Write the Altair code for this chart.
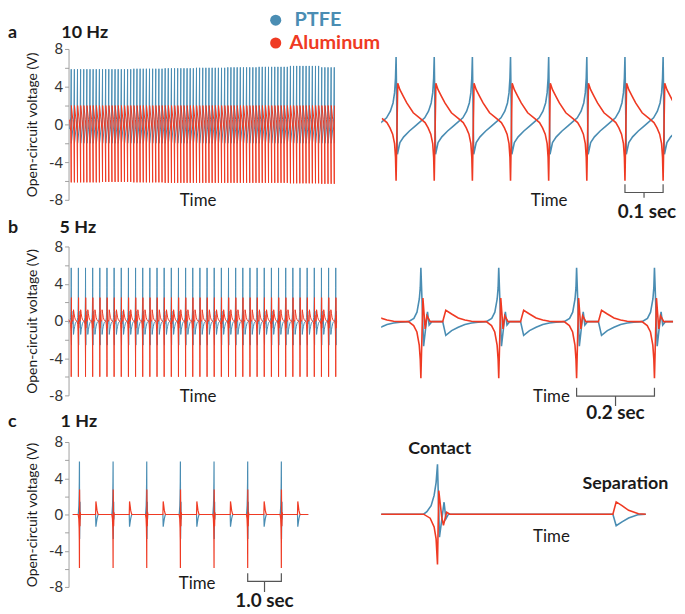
import altair as alt
import pandas as pd

BLUE = "#4a8db3"
RED = "#ef3a23"
AXC = "#a0a0a0"
TXT = "#1a1a1a"

series_names = ["PTFE", "Aluminum"]
series_colors = [BLUE, RED]

# ---------------- 10 Hz ----------------
P10 = 0.1
a_left_cycles = 85
a_left_phase = [0.0, 0.04, 0.5, 0.85]
a_left_ptfe = [5.9, -2.0, -0.5, 0.8]
a_left_al = [-6.2, 2.0, 0.5, -0.8]
a_left_ptfe_peak = [5.85, 5.85, 5.9, 5.95, 6.0, 6.05, 6.1, 6.2, 6.05]
a_left_al_trough = [-6.15, -6.1, -6.15, -6.2, -6.2, -6.2, -6.2, -6.25, -6.3]

a_right_ptfe_phase = [0.0, 0.035, 0.1, 0.2, 0.35, 0.5, 0.65, 0.75, 0.85, 0.92, 0.96, 0.985]
a_right_ptfe = [6.0, -3.2, -2.1, -1.55, -1.0, -0.53, -0.06, 0.25, 0.87, 1.65, 2.6, 4.0]
a_right_al_phase = [0.0, 0.043, 0.1, 0.19, 0.28, 0.45, 0.63, 0.76, 0.84, 0.91, 0.96, 0.985]
a_right_al = [-5.7, 3.5, 2.9, 2.27, 1.65, 0.72, 0.19, -0.2, -0.7, -1.3, -2.2, -3.5]

# ---------------- 5 Hz ----------------
P5 = 0.2
b_cycles = 38
b_ptfe_phase = [0.0, 0.035, 0.085, 0.106, 0.14, 0.28, 0.32, 0.395, 0.48, 0.565, 0.65, 0.735, 0.84, 0.91, 0.95, 0.98, 0.992]
b_ptfe = [5.7, -2.6, 1.05, -0.35, 0.0, 0.0, -1.45, -0.95, -0.6, -0.3, -0.14, -0.07, 0.0, 0.35, 1.0, 2.4, 3.6]
b_al_phase = [0.0, 0.026, 0.055, 0.077, 0.12, 0.28, 0.32, 0.395, 0.48, 0.565, 0.65, 0.735, 0.84, 0.907, 0.949, 0.979, 0.992]
b_al = [-6.0, 2.5, -0.77, 0.63, 0.0, 0.0, 1.2, 0.81, 0.39, 0.18, 0.04, 0.0, 0.0, -0.42, -1.1, -2.5, -4.0]

# ---------------- 1 Hz ----------------
P1 = 1.0
c_cycles = 7
c_ptfe_phase = [0.0, 0.0054, 0.018, 0.023, 0.03, 0.48, 0.489, 0.505, 0.523, 0.55, 0.57, 0.8, 0.962, 0.971, 0.9826, 0.9908, 0.9962]
c_ptfe = [5.85, -2.7, 1.4, -0.55, 0.0, 0.0, -1.35, -0.9, -0.45, -0.05, 0.0, 0.0, 0.0, 0.3, 1.0, 2.2, 3.7]
c_al_phase = [0.0, 0.0035, 0.0117, 0.0163, 0.025, 0.034, 0.48, 0.489, 0.505, 0.523, 0.55, 0.57, 0.8, 0.962, 0.98, 0.9908, 0.9962]
c_al = [-5.9, 2.75, -0.35, -1.3, 0.23, 0.0, 0.0, 1.44, 1.0, 0.45, 0.05, 0.0, 0.0, 0.0, -0.47, -1.5, -2.9]

# period brackets: (start cycle, end cycle, tick top, line level, stem bottom, label level)
bracket_c_left = [5, 6, -6.5, -7.38, -8.56, -9.6]
bracket_a_right = [6, 7, -6.03, -6.81, -7.31, -8.69]
bracket_b_right = [2, 3, -7.01, -7.89, -8.95, -9.72]
bracket_labels = ["1.0 sec", "0.1 sec", "0.2 sec"]

contact_label = ["Contact", 0.006, 7.64]
separation_label = ["Separation", 0.514, 3.57]

panel_letters = ["a", "b", "c"]
panel_freqs = ["10 Hz", "5 Hz", "1 Hz"]


def cycles(phases, values, period, k0, k1, t0, t1, first=None):
    ts, vs = [], []
    for k in range(k0, k1):
        for j, (p, v) in enumerate(zip(phases, values)):
            if j == 0 and first is not None and k >= 0:
                v = first[min(k // 10, len(first) - 1)]
            t = (k + p) * period
            if t0 <= t <= t1:
                ts.append(round(t, 6))
                vs.append(v)
    return pd.DataFrame({"t": ts, "v": vs})


def bracket_df(b, period):
    s, e, top, lvl, bot, _ = b
    t0, t1, tm = s * period, e * period, (s + e) / 2 * period
    rows = [
        (t0, top, 0, 0), (t0, lvl, 0, 1), (t1, lvl, 0, 2), (t1, top, 0, 3),
        (tm, lvl, 1, 0), (tm, bot, 1, 1),
    ]
    return pd.DataFrame(rows, columns=["t", "v", "seg", "ord"])


def encs(xdom, ydom, h, left_axis, time_x, time_y):
    x = alt.X("t:Q", scale=alt.Scale(domain=xdom, nice=False, zero=False),
              axis=alt.Axis(title="Time", domain=False, ticks=False, labels=False, grid=False,
                            titleX=time_x, titleY=time_y, titleAlign="center",
                            titleBaseline="middle", titleFontSize=17,
                            titleFontWeight="normal", titleColor=TXT, titlePadding=0))
    if left_axis:
        yaxis = alt.Axis(values=[-8, -6, -4, -2, 0, 2, 4, 6, 8],
                         labelExpr="datum.value % 4 == 0 ? '' + datum.value : ''",
                         domainColor=AXC, tickColor=AXC, tickSize=4, labelPadding=2,
                         labelFontSize=15, labelColor="#333333", grid=False,
                         title="Open-circuit voltage (V)", titleFontSize=14,
                         titleFontWeight="normal", titleColor=TXT, titleAngle=270,
                         titleX=-36, titleY=h / 2, titleAlign="center", titleBaseline="middle")
        y = alt.Y("v:Q", scale=alt.Scale(domain=ydom, nice=False, zero=False), axis=yaxis)
    else:
        y = alt.Y("v:Q", scale=alt.Scale(domain=ydom, nice=False, zero=False), axis=None)
    return x, y


def lines(ptfe_df, al_df, x, y, sw):
    blue = alt.Chart(ptfe_df).mark_line(color=BLUE, strokeWidth=sw, clip=True).encode(x=x, y=y)
    red = alt.Chart(al_df).mark_line(color=RED, strokeWidth=sw, clip=True).encode(x=x, y=y)
    return [blue, red]


def labels(i, ly, fx):
    d = pd.DataFrame({"letter": [panel_letters[i]], "freq": [panel_freqs[i]]})
    l1 = alt.Chart(d).mark_text(align="left", baseline="middle", fontSize=18, fontWeight="bold",
                                color=TXT).encode(x=alt.value(-61), y=alt.value(ly), text="letter:N")
    l2 = alt.Chart(d).mark_text(align="left", baseline="middle", fontSize=18, fontWeight="bold",
                                color=TXT).encode(x=alt.value(fx), y=alt.value(ly), text="freq:N")
    return [l1, l2]


def bracket_layers(b, period, label, x, y, dx=0):
    bd = bracket_df(b, period)
    br = alt.Chart(bd).mark_line(color="#555555", strokeWidth=1.2).encode(
        x=x, y=y, detail="seg:N", order="ord:Q")
    td = pd.DataFrame({"t": [(b[0] + b[1]) / 2 * period], "v": [b[5]], "label": [label]})
    tx = alt.Chart(td).mark_text(fontSize=19, fontWeight="bold", color=TXT, baseline="middle",
                                 dx=dx).encode(x=x, y=y, text="label:N")
    return [br, tx]


LW = 271
HA, HB, HC = 152, 150, 146

# ---- row a ----
xa, ya = encs([-0.0856, 8.504], [-8, 8], HA, True, 130, 0.5)
left_a_layers = lines(
    cycles(a_left_phase, a_left_ptfe, P10, -1, a_left_cycles, -0.06, 8.42, a_left_ptfe_peak),
    cycles(a_left_phase, a_left_al, P10, -1, a_left_cycles, -0.06, 8.42, a_left_al_trough),
    xa, ya, 1.0) + labels(0, -16, -7.3)
leg = pd.DataFrame({"name": series_names, "color": series_colors})
for i, (nm, col) in enumerate(zip(series_names, series_colors)):
    yy = -29 if i == 0 else -6
    di = leg.iloc[[i]]
    left_a_layers.append(alt.Chart(di).mark_point(filled=True, shape="circle", size=125, opacity=1,
                                                  color=col).encode(x=alt.value(208.7), y=alt.value(yy)))
    left_a_layers.append(alt.Chart(di).mark_text(align="left", baseline="middle", fontSize=20,
                                                 fontWeight="bold", color=col).encode(
        x=alt.value(227.7 if i == 0 else 222.7), y=alt.value(yy), text="name:N"))
left_a = alt.layer(*left_a_layers).properties(width=LW, height=HA)

xar, yar = encs([-0.039, 0.7234], [-7.5, 6.75], HA, False, 168.7, 1)
right_a = alt.layer(*(lines(
    cycles(a_right_ptfe_phase, a_right_ptfe, P10, -1, 8, -0.05, 0.74),
    cycles(a_right_al_phase, a_right_al, P10, -1, 8, -0.05, 0.74),
    xar, yar, 1.6) + bracket_layers(bracket_a_right, P10, bracket_labels[1], xar, yar, dx=3))
).properties(width=293, height=HA)

# ---- row b ----
xb, yb = encs([-0.075, 7.45], [-8, 8], HB, True, 130, 0.7)
left_b = alt.layer(*(lines(
    cycles(b_ptfe_phase, b_ptfe, P5, -1, b_cycles, -0.1, 7.43),
    cycles(b_al_phase, b_al, P5, -1, b_cycles, -0.1, 7.43),
    xb, yb, 1.0) + labels(1, -18.5, -9))).properties(width=LW, height=HB)

xbr, ybr = encs([-0.1019, 0.6477], [-7.82, 7.97], HB, False, 171, 0.7)
right_b = alt.layer(*(lines(
    cycles(b_ptfe_phase, b_ptfe, P5, -1, 5, -0.12, 0.66),
    cycles(b_al_phase, b_al, P5, -1, 5, -0.12, 0.66),
    xbr, ybr, 1.6) + bracket_layers(bracket_b_right, P5, bracket_labels[2], xbr, ybr))
).properties(width=294, height=HB)

# ---- row c ----
xc, yc = encs([-0.324, 7.67], [-8, 8], HC, True, 129, -3.3)
left_c = alt.layer(*(lines(
    cycles(c_ptfe_phase, c_ptfe, P1, -1, c_cycles, -0.4, 6.82),
    cycles(c_al_phase, c_al, P1, -1, c_cycles, -0.4, 6.82),
    xc, yc, 1.2) + labels(2, -20.5, -8)
    + bracket_layers(bracket_c_left, P1, bracket_labels[0], xc, yc))).properties(width=LW, height=HC)

xcr, ycr = encs([-0.154, 0.631], [-8.52, 8.45], HC, False, 171, -51)
ann = pd.DataFrame({"label": [contact_label[0], separation_label[0]],
                    "t": [contact_label[1], separation_label[1]],
                    "v": [contact_label[2], separation_label[2]]})
right_c = alt.layer(*(lines(
    cycles(c_ptfe_phase, c_ptfe, P1, -1, 2, -0.2, 0.7),
    cycles(c_al_phase, c_al, P1, -1, 2, -0.2, 0.7),
    xcr, ycr, 1.6) + [alt.Chart(ann).mark_text(fontSize=18, fontWeight="bold", color=TXT,
                                               baseline="middle").encode(x=xcr, y=ycr, text="label:N")])
).properties(width=289, height=HC)

chart = alt.concat(left_a, right_a, left_b, right_b, left_c, right_c, columns=2,
                   spacing={"row": 47, "column": 44}, bounds="flush", align="each").resolve_scale(
    x="independent", y="independent").properties(padding=0).configure(font="Lato").configure_view(stroke=None)

chart.save("out.html", embed_options={"renderer": "svg", "actions": False})
